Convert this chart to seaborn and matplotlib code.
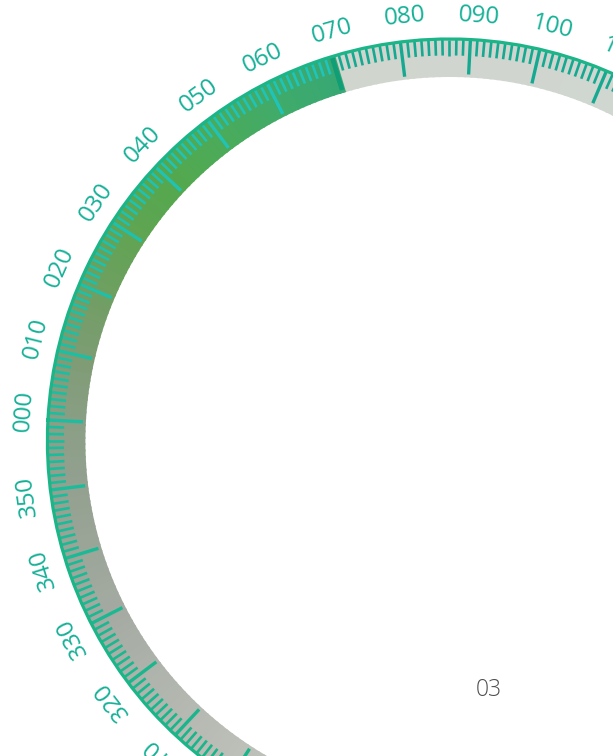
import numpy as np
import matplotlib
matplotlib.use("Agg")
import matplotlib.pyplot as plt
import seaborn as sns

# ---------------- data ----------------
label_degrees = list(range(0, 360, 10))
label_texts = [f"{d:03d}" for d in label_degrees]
major_degrees = list(range(0, 360, 10))
minor_degrees = [d for d in range(0, 360) if d % 10 != 0]
highlight_end = 70.5          # coloured sector ends at this bearing
page_number = "03"

# gradient anchors for coloured sector, every 10 deg from 70 down to -60
sector_anchor_colors = ["#38a874", "#40ab6a", "#4aab5a", "#54a84e", "#61a453",
                        "#6f9f62", "#7d9c73", "#8a9e85", "#93a190", "#9ba598",
                        "#a4aaa2", "#adb2aa", "#b5b9b1", "#bcc0b8"]
gray_anchor_colors = ["#d0d5ce", "#d0d7d0", "#cbd9ce", "#c7d9cb", "#c4d6c8"]
tick_anchor_colors = ["#1fc4bb", "#20c3b5", "#1dc0a8", "#1bbc9c", "#1ab890", "#19b489"]
gray_tick_color = "#16a991"
label_color = "#15b097"
rim_color = "#1bb588"

# ---------------- style ----------------
sns.set_theme(style="white")
plt.rcParams["font.family"] = ["Open Sans", "DejaVu Sans"]

W, H = 613.0, 756.0
CX, CY, R = 449.4, 441.0, 402.0     # dial centre and rim radius (pixels)
R_IN = 364.0

fig = plt.figure(figsize=(6.13, 7.56), dpi=100)
ax = fig.add_axes([(CX - R) / W, (H - CY - R) / H, 2 * R / W, 2 * R / H],
                  projection="polar")
ax.set_theta_zero_location("W", offset=-3)
ax.set_theta_direction(-1)
ax.grid(False)
ax.patch.set_alpha(0)


def norm_deg(d):
    return d if d <= 250 else d - 360


# --- ring fill ---
col_degs = np.arange(-110, 71)
grad = sns.blend_palette(sector_anchor_colors, n_colors=131)
col_colors = [grad[int(np.clip(70 - d, 0, 130))] for d in col_degs]
ax.bar(np.radians(col_degs[::-1]), R - R_IN, width=np.radians(1.3), bottom=R_IN,
       color=col_colors[::-1], linewidth=0, align="center")
gray_degs = np.arange(71, 251)
g_grad = sns.blend_palette(gray_anchor_colors, n_colors=len(gray_degs))
ax.bar(np.radians(gray_degs), R - R_IN, width=np.radians(1.3), bottom=R_IN,
       color=g_grad, linewidth=0, align="center")
ax.bar(np.radians(70), R - R_IN, width=np.radians(1.0), bottom=R_IN,
       color=grad[0], linewidth=0, align="center")

ax.set_ylim(0, R)
ax.set_xticks([])
ax.set_yticks([])
ax.spines["polar"].set_color(rim_color)
ax.spines["polar"].set_linewidth(2.3)

# --- ticks ---
t_grad = sns.blend_palette(tick_anchor_colors, n_colors=131)


def tick_color(d):
    dd = norm_deg(d)
    if dd > highlight_end:
        return gray_tick_color
    return t_grad[int(np.clip(round(70 - dd), 0, 130))]


ax.vlines(np.radians(minor_degrees), R - 16.5, R - 0.5,
          colors=[tick_color(d) for d in minor_degrees], linewidth=1.9,
          capstyle="butt")
major_cols = ["#109e76" if d == 70 else tick_color(d) for d in major_degrees]
major_lw = [3.4 if d == 70 else 2.4 for d in major_degrees]
ax.vlines(np.radians(major_degrees), R - 35, R - 0.5, colors=major_cols,
          linewidths=major_lw, capstyle="butt")

# --- labels ---
for d, t in zip(label_degrees, label_texts):
    dd = norm_deg(d)
    shift = 1.0 if dd >= 0 else -0.5
    ang = dd + shift
    ax.text(np.radians(ang), 426, t, rotation=90 - (ang + 3), rotation_mode="anchor",
            ha="center", va="center", fontsize=17.5, color=label_color,
            fontweight="medium")

fig.text(489 / W, 1 - 690 / H, page_number, ha="center", va="center", fontsize=16.5,
         color="#4d4d4d", fontweight="light")

fig.savefig("out.png", dpi=100)
